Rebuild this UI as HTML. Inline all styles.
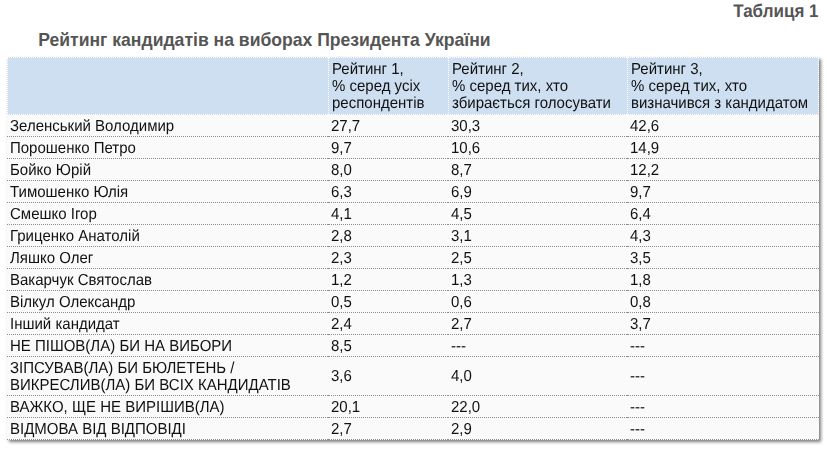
<!DOCTYPE html>
<html><head><meta charset="utf-8">
<style>
html,body{margin:0;padding:0;background:#fff;width:827px;height:449px;overflow:hidden;}
body{position:relative;font-family:"Liberation Sans",sans-serif;}
#cap{position:absolute;top:1.3px;right:8.5px;font-size:17px;font-weight:bold;color:#555;line-height:20px;white-space:nowrap;text-rendering:geometricPrecision;transform:scaleY(1.08);transform-origin:0 0;}
#title{position:absolute;left:38.2px;top:29.5px;font-size:17.58px;font-weight:bold;color:#555;line-height:20px;white-space:nowrap;}
.bx{position:absolute;}
.t{position:absolute;font-size:15px;line-height:17px;color:#111;white-space:nowrap;text-rendering:geometricPrecision;transform:scaleY(1.06);transform-origin:0 0;will-change:transform;}
.gd{position:absolute;height:1px;background:repeating-linear-gradient(90deg,#8c8c8c 0 1px,transparent 1px 2px);}
.hd{position:absolute;height:1px;background:repeating-linear-gradient(90deg,#fff 0 1px,transparent 1px 2px);}
.vd{position:absolute;width:1px;background:repeating-linear-gradient(180deg,#fff 0 1px,transparent 1px 2px);}
</style></head><body>
<div id="cap">Таблиця 1</div>
<div id="title">Рейтинг кандидатів на виборах Президента України</div>
<div class="bx" style="left:7px;top:57px;width:812px;height:383px;background:#fafafa;box-shadow:2px 2px 3px rgba(0,0,0,.5)"></div>
<div class="bx" style="left:7px;top:57px;width:812px;height:58px;background:#cddff0"></div>
<div class="hd" style="left:7px;top:57px;width:321px"></div><div class="hd" style="left:329px;top:57px;width:119px"></div><div class="hd" style="left:448px;top:57px;width:179px"></div><div class="hd" style="left:628px;top:57px;width:191px"></div><div class="hd" style="left:328px;top:57px;width:1px"></div><div class="hd" style="left:627px;top:57px;width:1px"></div>
<div class="hd" style="left:7px;top:114px;width:321px"></div><div class="hd" style="left:329px;top:114px;width:119px"></div><div class="hd" style="left:448px;top:114px;width:179px"></div><div class="hd" style="left:628px;top:114px;width:191px"></div><div class="hd" style="left:328px;top:114px;width:1px"></div><div class="hd" style="left:627px;top:114px;width:1px"></div>
<div class="vd" style="left:7px;top:58px;height:56px"></div>
<div class="vd" style="left:328px;top:58px;height:56px"></div>
<div class="vd" style="left:448px;top:58px;height:56px"></div>
<div class="vd" style="left:627px;top:58px;height:56px"></div>
<div class="vd" style="left:818px;top:58px;height:56px"></div>
<div class="t" style="left:332px;top:60px">Рейтинг 1,</div>
<div class="t" style="left:332px;top:77px">% серед усіх</div>
<div class="t" style="left:332px;top:94px">респондентів</div>
<div class="t" style="left:452px;top:60px">Рейтинг 2,</div>
<div class="t" style="left:452px;top:77px">% серед тих, хто</div>
<div class="t" style="left:452px;top:94px">збирається голосувати</div>
<div class="t" style="left:631px;top:60px">Рейтинг 3,</div>
<div class="t" style="left:631px;top:77px">% серед тих, хто</div>
<div class="t" style="left:631px;top:94px">визначився з кандидатом</div>
<div class="t" style="left:9.5px;top:117px">Зеленський Володимир</div>
<div class="t" style="left:330.5px;top:117px">27,7</div>
<div class="t" style="left:450.5px;top:117px">30,3</div>
<div class="t" style="left:629.5px;top:117px">42,6</div>
<div class="t" style="left:9.5px;top:139px">Порошенко Петро</div>
<div class="t" style="left:330.5px;top:139px">9,7</div>
<div class="t" style="left:450.5px;top:139px">10,6</div>
<div class="t" style="left:629.5px;top:139px">14,9</div>
<div class="t" style="left:9.5px;top:161px">Бойко Юрій</div>
<div class="t" style="left:330.5px;top:161px">8,0</div>
<div class="t" style="left:450.5px;top:161px">8,7</div>
<div class="t" style="left:629.5px;top:161px">12,2</div>
<div class="t" style="left:9.5px;top:183px">Тимошенко Юлія</div>
<div class="t" style="left:330.5px;top:183px">6,3</div>
<div class="t" style="left:450.5px;top:183px">6,9</div>
<div class="t" style="left:629.5px;top:183px">9,7</div>
<div class="t" style="left:9.5px;top:205px">Смешко Ігор</div>
<div class="t" style="left:330.5px;top:205px">4,1</div>
<div class="t" style="left:450.5px;top:205px">4,5</div>
<div class="t" style="left:629.5px;top:205px">6,4</div>
<div class="t" style="left:9.5px;top:227px">Гриценко Анатолій</div>
<div class="t" style="left:330.5px;top:227px">2,8</div>
<div class="t" style="left:450.5px;top:227px">3,1</div>
<div class="t" style="left:629.5px;top:227px">4,3</div>
<div class="t" style="left:9.5px;top:249px">Ляшко Олег</div>
<div class="t" style="left:330.5px;top:249px">2,3</div>
<div class="t" style="left:450.5px;top:249px">2,5</div>
<div class="t" style="left:629.5px;top:249px">3,5</div>
<div class="t" style="left:9.5px;top:271px">Вакарчук Святослав</div>
<div class="t" style="left:330.5px;top:271px">1,2</div>
<div class="t" style="left:450.5px;top:271px">1,3</div>
<div class="t" style="left:629.5px;top:271px">1,8</div>
<div class="t" style="left:9.5px;top:293px">Вілкул Олександр</div>
<div class="t" style="left:330.5px;top:293px">0,5</div>
<div class="t" style="left:450.5px;top:293px">0,6</div>
<div class="t" style="left:629.5px;top:293px">0,8</div>
<div class="t" style="left:9.5px;top:315px">Інший кандидат</div>
<div class="t" style="left:330.5px;top:315px">2,4</div>
<div class="t" style="left:450.5px;top:315px">2,7</div>
<div class="t" style="left:629.5px;top:315px">3,7</div>
<div class="t" style="left:9.5px;top:337px">НЕ ПІШОВ(ЛА) БИ НА ВИБОРИ</div>
<div class="t" style="left:330.5px;top:337px">8,5</div>
<div class="t" style="left:450.5px;top:337px">---</div>
<div class="t" style="left:629.5px;top:337px">---</div>
<div class="t" style="left:9.5px;top:359px">ЗІПСУВАВ(ЛА) БИ БЮЛЕТЕНЬ /</div>
<div class="t" style="left:9.5px;top:376px">ВИКРЕСЛИВ(ЛА) БИ ВСІХ КАНДИДАТІВ</div>
<div class="t" style="left:330.5px;top:367px">3,6</div>
<div class="t" style="left:450.5px;top:367px">4,0</div>
<div class="t" style="left:629.5px;top:367px">---</div>
<div class="t" style="left:9.5px;top:398px">ВАЖКО, ЩЕ НЕ ВИРІШИВ(ЛА)</div>
<div class="t" style="left:330.5px;top:398px">20,1</div>
<div class="t" style="left:450.5px;top:398px">22,0</div>
<div class="t" style="left:629.5px;top:398px">---</div>
<div class="t" style="left:9.5px;top:420px">ВІДМОВА ВІД ВІДПОВІДІ</div>
<div class="t" style="left:330.5px;top:420px">2,7</div>
<div class="t" style="left:450.5px;top:420px">2,9</div>
<div class="t" style="left:629.5px;top:420px">---</div>
<div class="gd" style="left:7px;top:136px;width:321px"></div><div class="gd" style="left:329px;top:136px;width:119px"></div><div class="gd" style="left:448px;top:136px;width:179px"></div><div class="gd" style="left:628px;top:136px;width:191px"></div><div class="gd" style="left:328px;top:136px;width:1px"></div><div class="gd" style="left:627px;top:136px;width:1px"></div>
<div class="gd" style="left:7px;top:158px;width:321px"></div><div class="gd" style="left:329px;top:158px;width:119px"></div><div class="gd" style="left:448px;top:158px;width:179px"></div><div class="gd" style="left:628px;top:158px;width:191px"></div><div class="gd" style="left:328px;top:158px;width:1px"></div><div class="gd" style="left:627px;top:158px;width:1px"></div>
<div class="gd" style="left:7px;top:180px;width:321px"></div><div class="gd" style="left:329px;top:180px;width:119px"></div><div class="gd" style="left:448px;top:180px;width:179px"></div><div class="gd" style="left:628px;top:180px;width:191px"></div><div class="gd" style="left:328px;top:180px;width:1px"></div><div class="gd" style="left:627px;top:180px;width:1px"></div>
<div class="gd" style="left:7px;top:202px;width:321px"></div><div class="gd" style="left:329px;top:202px;width:119px"></div><div class="gd" style="left:448px;top:202px;width:179px"></div><div class="gd" style="left:628px;top:202px;width:191px"></div><div class="gd" style="left:328px;top:202px;width:1px"></div><div class="gd" style="left:627px;top:202px;width:1px"></div>
<div class="gd" style="left:7px;top:224px;width:321px"></div><div class="gd" style="left:329px;top:224px;width:119px"></div><div class="gd" style="left:448px;top:224px;width:179px"></div><div class="gd" style="left:628px;top:224px;width:191px"></div><div class="gd" style="left:328px;top:224px;width:1px"></div><div class="gd" style="left:627px;top:224px;width:1px"></div>
<div class="gd" style="left:7px;top:246px;width:321px"></div><div class="gd" style="left:329px;top:246px;width:119px"></div><div class="gd" style="left:448px;top:246px;width:179px"></div><div class="gd" style="left:628px;top:246px;width:191px"></div><div class="gd" style="left:328px;top:246px;width:1px"></div><div class="gd" style="left:627px;top:246px;width:1px"></div>
<div class="gd" style="left:7px;top:268px;width:321px"></div><div class="gd" style="left:329px;top:268px;width:119px"></div><div class="gd" style="left:448px;top:268px;width:179px"></div><div class="gd" style="left:628px;top:268px;width:191px"></div><div class="gd" style="left:328px;top:268px;width:1px"></div><div class="gd" style="left:627px;top:268px;width:1px"></div>
<div class="gd" style="left:7px;top:290px;width:321px"></div><div class="gd" style="left:329px;top:290px;width:119px"></div><div class="gd" style="left:448px;top:290px;width:179px"></div><div class="gd" style="left:628px;top:290px;width:191px"></div><div class="gd" style="left:328px;top:290px;width:1px"></div><div class="gd" style="left:627px;top:290px;width:1px"></div>
<div class="gd" style="left:7px;top:312px;width:321px"></div><div class="gd" style="left:329px;top:312px;width:119px"></div><div class="gd" style="left:448px;top:312px;width:179px"></div><div class="gd" style="left:628px;top:312px;width:191px"></div><div class="gd" style="left:328px;top:312px;width:1px"></div><div class="gd" style="left:627px;top:312px;width:1px"></div>
<div class="gd" style="left:7px;top:334px;width:321px"></div><div class="gd" style="left:329px;top:334px;width:119px"></div><div class="gd" style="left:448px;top:334px;width:179px"></div><div class="gd" style="left:628px;top:334px;width:191px"></div><div class="gd" style="left:328px;top:334px;width:1px"></div><div class="gd" style="left:627px;top:334px;width:1px"></div>
<div class="gd" style="left:7px;top:356px;width:321px"></div><div class="gd" style="left:329px;top:356px;width:119px"></div><div class="gd" style="left:448px;top:356px;width:179px"></div><div class="gd" style="left:628px;top:356px;width:191px"></div><div class="gd" style="left:328px;top:356px;width:1px"></div><div class="gd" style="left:627px;top:356px;width:1px"></div>
<div class="gd" style="left:7px;top:395px;width:321px"></div><div class="gd" style="left:329px;top:395px;width:119px"></div><div class="gd" style="left:448px;top:395px;width:179px"></div><div class="gd" style="left:628px;top:395px;width:191px"></div><div class="gd" style="left:328px;top:395px;width:1px"></div><div class="gd" style="left:627px;top:395px;width:1px"></div>
<div class="gd" style="left:7px;top:417px;width:321px"></div><div class="gd" style="left:329px;top:417px;width:119px"></div><div class="gd" style="left:448px;top:417px;width:179px"></div><div class="gd" style="left:628px;top:417px;width:191px"></div><div class="gd" style="left:328px;top:417px;width:1px"></div><div class="gd" style="left:627px;top:417px;width:1px"></div>
<div class="gd" style="left:7px;top:439px;width:321px"></div><div class="gd" style="left:329px;top:439px;width:119px"></div><div class="gd" style="left:448px;top:439px;width:179px"></div><div class="gd" style="left:628px;top:439px;width:191px"></div><div class="gd" style="left:328px;top:439px;width:1px"></div><div class="gd" style="left:627px;top:439px;width:1px"></div>
</body></html>
